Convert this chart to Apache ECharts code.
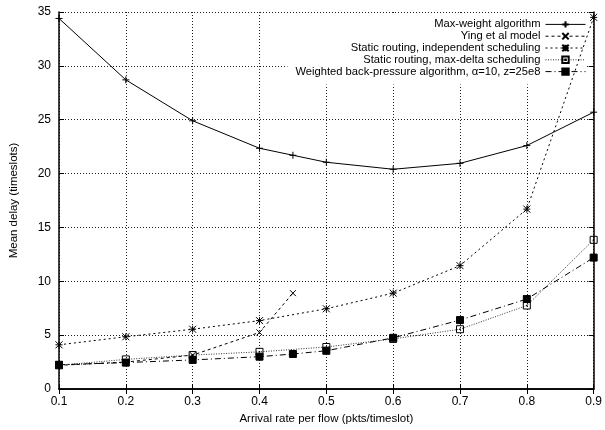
<!DOCTYPE html>
<html><head><meta charset="utf-8">
<script src="https://cdn.jsdelivr.net/npm/echarts@6/dist/echarts.min.js"></script>
<style>html,body{margin:0;padding:0;background:#fff}#c{width:605px;height:430px}</style>
</head><body><div id="c"></div>
<script>
const xTicks = [0.1,0.2,0.3,0.4,0.5,0.6,0.7,0.8,0.9];
const seriesNames = ["Max-weight algorithm","Ying et al model","Static routing, independent scheduling","Static routing, max-delta scheduling","Weighted back-pressure algorithm, \u03b1=10, z=25e8"];
const mwRates = [0.1,0.2,0.3,0.4,0.45,0.5,0.6,0.7,0.8,0.9];
const maxWeight = [34.4,28.7,24.9,22.35,21.7,21.05,20.4,20.95,22.6,25.7];
const yingRates = [0.1,0.2,0.3,0.4,0.45];
const ying = [2.2,2.5,3.15,5.25,8.9];
const staticRates = [0.1,0.2,0.3,0.4,0.5,0.6,0.7,0.8,0.9];
const staticIndep = [4.1,4.85,5.55,6.35,7.45,8.9,11.45,16.7,34.5];
const maxDelta = [2.2,2.75,3.15,3.45,3.9,4.65,5.55,7.75,13.85];
const wbpRates = [0.1,0.2,0.3,0.4,0.45,0.5,0.6,0.7,0.8,0.9];
const weighted = [2.25,2.45,2.7,3.0,3.25,3.55,4.75,6.4,8.35,12.2];

const pair = (xs, ys) => xs.map((x,i)=>[x, ys[i]]);
const FONT = 'Liberation Sans, Arial, sans-serif';
const sym = {
  plus: 'path://M0,5L10,5M5,0L5,10',
  cross: 'path://M0,0L10,10M10,0L0,10',
  star: 'path://M0,0L10,10M10,0L0,10M5,0L5,10M0,5L10,5',
  box: 'path://M0,0L10,0L10,10L0,10ZM4.5,4.5L5.5,4.5L5.5,5.5L4.5,5.5Z'
};
function mk(name, data, symbol, size, lineType, fill, lineColor) {
  return {
    name, type: 'line', data, symbol, symbolSize: size, showSymbol: true,
    lineStyle: {color: lineColor || '#000', width: 1, type: lineType},
    itemStyle: {color: fill, borderColor: '#000', borderWidth: 1},
    emphasis: {disabled: true}, animation: false, z: 3
  };
}
const chart = echarts.init(document.getElementById('c'), null, {renderer: 'canvas'});
const axisCommon = {
  axisLine: {show: true, lineStyle: {color: '#000', width: 1.5}},
  axisTick: {show: true, inside: true, length: 5, lineStyle: {color: '#000'}},
};
chart.setOption({
  animation: false,
  backgroundColor: '#fff',
  grid: {left: 57, right: 8, top: 12, bottom: 39},
  legend: {
    orient: 'vertical', align: 'right', right: 19, top: 13.5, padding: [5, 0, 7, 8],
    backgroundColor: '#fff', z: 2,
    itemWidth: 40, itemHeight: 8, itemGap: 0,
    lineStyle: {width: 1},
    textStyle: {fontFamily: FONT, fontSize: 11.2, lineHeight: 11.8, color: '#000', padding: [0,0,0,0]},
    data: seriesNames
  },
  xAxis: [
    Object.assign({type: 'value', min: 0.1, max: 0.9, interval: 0.1, position: 'bottom',
      name: 'Arrival rate per flow (pkts/timeslot)', nameLocation: 'middle', nameGap: 24,
      nameTextStyle: {fontFamily: FONT, fontSize: 11.5, color: '#000'},
      axisLabel: {fontFamily: FONT, fontSize: 12, color: '#000', margin: 7, formatter: v => v.toFixed(1)},
      splitLine: {show: true, lineStyle: {color: '#222', type: [1,2], width: 1}}
    }, axisCommon),
    Object.assign({type: 'value', min: 0.1, max: 0.9, interval: 0.1, position: 'top',
      axisLabel: {show: false}, splitLine: {show: false}}, axisCommon)
  ],
  yAxis: [
    Object.assign({type: 'value', min: 0, max: 35, interval: 5, position: 'left',
      name: 'Mean delay (timeslots)', nameLocation: 'middle', nameGap: 39, nameRotate: 90,
      nameTextStyle: {fontFamily: FONT, fontSize: 11.5, color: '#000'},
      axisLabel: {fontFamily: FONT, fontSize: 12, color: '#000', margin: 8},
      splitLine: {show: true, lineStyle: {color: '#222', type: [1,2], width: 1}}
    }, axisCommon),
    Object.assign({type: 'value', min: 0, max: 35, interval: 5, position: 'right',
      axisLabel: {show: false}, splitLine: {show: false}}, axisCommon)
  ],
  series: [
    mk(seriesNames[0], pair(mwRates, maxWeight), sym.plus, 7, 'solid', 'none'),
    mk(seriesNames[1], pair(yingRates, ying), sym.cross, 6, [3,3], 'none'),
    mk(seriesNames[2], pair(staticRates, staticIndep), sym.star, 7, [2,3], '#000'),
    mk(seriesNames[3], pair(staticRates, maxDelta), sym.box, 7, [1,1.5], 'none', '#333'),
    mk(seriesNames[4], pair(wbpRates, weighted), 'rect', 7, [6,3,1,3], '#000')
  ]
});
</script></body></html>
